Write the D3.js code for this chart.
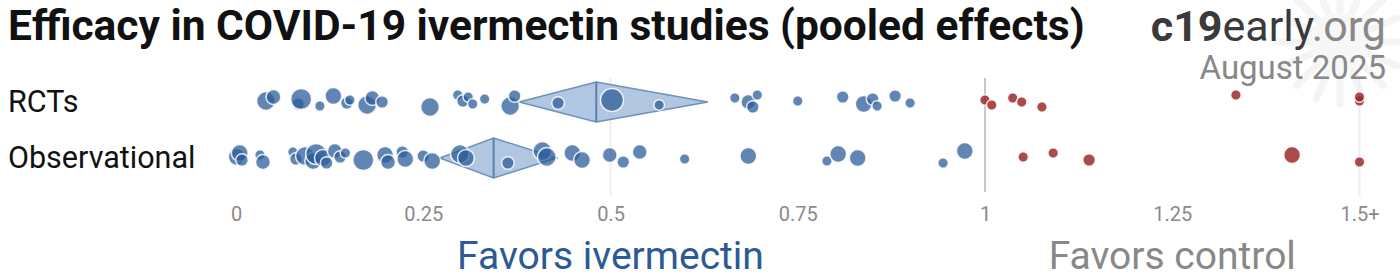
<!DOCTYPE html>
<html><head><meta charset="utf-8">
<script src="https://cdn.jsdelivr.net/npm/d3@7"></script>
<style>body{margin:0;background:#fff}svg{display:block}text{font-family:Roboto,"Noto Sans",sans-serif}</style>
</head><body>
<script>
// ---- data ----
const title = "Efficacy in COVID-19 ivermectin studies (pooled effects)";
const rows = ["RCTs", "Observational"];
const tickValues = [0, 0.25, 0.5, 0.75, 1, 1.25, 1.5];
const tickLabels = ["0", "0.25", "0.5", "0.75", "1", "1.25", "1.5+"];
// relative effect per study (capped at 1.5) and weight
const rctEffects = [0.040,0.050,0.083,0.087,0.112,0.130,0.148,0.152,0.175,0.182,0.195,0.259,0.296,0.303,0.310,0.316,0.332,0.366,0.372,0.430,0.502,0.565,0.666,0.684,0.690,0.696,0.750,0.810,0.838,0.850,0.856,0.880,0.900,1.000,1.009,1.037,1.049,1.076,1.335,1.5,1.5];
const rctWeights = [80,50,36,100,25,64,36,25,80,50,36,80,25,36,25,25,25,80,36,36,120,25,25,50,36,25,25,36,64,36,25,36,25,25,25,25,25,25,25,25,25];
const obsEffects = [0.001,0.005,0.008,0.032,0.036,0.076,0.080,0.092,0.103,0.107,0.116,0.121,0.132,0.139,0.146,0.170,0.199,0.203,0.222,0.226,0.250,0.262,0.299,0.307,0.363,0.409,0.415,0.449,0.462,0.499,0.517,0.539,0.599,0.684,0.789,0.804,0.830,0.944,0.973,1.051,1.091,1.139,1.410,1.5];
const obsWeights = [64,64,36,25,50,25,36,80,64,100,64,36,50,36,25,100,64,50,36,64,36,64,80,64,36,80,80,64,64,50,36,50,25,64,25,64,64,25,64,25,25,36,64,25];
// pooled effects: [lower, estimate, upper]
const pooled = [[0.378, 0.481, 0.630], [0.272, 0.344, 0.428]];
const favorLabels = ["Favors ivermectin", "Favors control"];
const favorAt = [0.5, 1.25];
const brand = ["c19", "early", ".org"];
const dateLabel = "August 2025";

// ---- chart ----
const W = 1400, H = 280;
const svg = d3.select("body").append("svg").attr("width", W).attr("height", H);
const x = d3.scaleLinear().domain([0, 1]).range([236, 985]);
const y = d3.scalePoint().domain(rows).range([101, 157]);
const r = d3.scaleSqrt().domain([0, 120]).range([0, 11.5]);

// faint background decoration (virus logo)
const deco = svg.append("g").attr("transform", "translate(1340,42)").attr("opacity", 0.3);
d3.range(16).forEach(i => {
  const a = i / 16 * Math.PI * 2;
  deco.append("line").attr("x1", 0).attr("y1", 0)
    .attr("x2", Math.cos(a) * 62).attr("y2", Math.sin(a) * 62)
    .attr("stroke", "#dcdcdc").attr("stroke-width", 7).attr("stroke-linecap", "round");
});
deco.append("circle").attr("r", 30).attr("fill", "#e6e6e6");

// reference lines
[[0.5, "#eeeeee", 78, 196], [1, "#c8c8c8", 78, 192], [1.5, "#eeeeee", 78, 196]].forEach(([v, c, y1, y2]) => {
  svg.append("line").attr("x1", x(v)).attr("x2", x(v)).attr("y1", y1).attr("y2", y2)
    .attr("stroke", c).attr("stroke-width", 2);
});

// title
svg.append("text").attr("x", 8).attr("y", 40).attr("font-size", 42.5).attr("font-weight", 700)
  .attr("fill", "#111").text(title);
const bt = svg.append("text").attr("x", 1386).attr("y", 41).attr("text-anchor", "end").attr("font-size", 43);
bt.append("tspan").attr("font-weight", 700).attr("fill", "#3a3a3a").text(brand[0]);
bt.append("tspan").attr("fill", "#3a3a3a").text(brand[1]);
bt.append("tspan").attr("fill", "#888").text(brand[2]);
svg.append("text").attr("x", 1386).attr("y", 79).attr("text-anchor", "end").attr("font-size", 33)
  .attr("fill", "#888").text(dateLabel);

// row labels
svg.selectAll("text.row").data(rows).join("text").attr("class", "row")
  .attr("x", 8).attr("y", d => y(d) + 11).attr("font-size", 30.5).attr("fill", "#111").text(d => d);

// diamonds
const dh = 20;
svg.selectAll("path.diamond").data(pooled).join("path").attr("class", "diamond")
  .attr("d", (d, i) => {
    const cy = y(rows[i]) + 1;
    return `M${x(d[0])},${cy}L${x(d[1])},${cy - dh}L${x(d[2])},${cy}L${x(d[1])},${cy + dh}Z`;
  })
  .attr("fill", "#a3bcdb").attr("fill-opacity", 0.85).attr("stroke", "#6d91bd").attr("stroke-width", 1.5);
svg.selectAll("line.est").data(pooled).join("line").attr("class", "est")
  .attr("x1", d => x(d[1])).attr("x2", d => x(d[1]))
  .attr("y1", (d, i) => y(rows[i]) + 1 - dh).attr("y2", (d, i) => y(rows[i]) + 1 + dh)
  .attr("stroke", "#5a80b0").attr("stroke-width", 2);

// study dots
const jit = [0, -4, 3, -2, 5, -5, 2, -1, 4, -3, 1, 6, -6];
function dots(effects, weights, row) {
  const data = effects.map((e, i) => ({ e, w: weights[i], i }));
  svg.append("g").selectAll("circle").data(data).join("circle")
    .attr("cx", d => x(d.e))
    .attr("cy", d => y(row) + jit[d.i % jit.length])
    .attr("r", d => r(d.w))
    .attr("fill", d => d.e >= 1 ? "#9c2a2a" : "#2b5c9a")
    .attr("fill-opacity", d => d.e >= 1 ? 0.85 : 0.74)
    .attr("stroke", "#fff").attr("stroke-opacity", 0.85).attr("stroke-width", 1.5);
}
dots(rctEffects, rctWeights, rows[0]);
dots(obsEffects, obsWeights, rows[1]);

// axis tick labels
const axis = d3.axisBottom(x).tickValues(tickValues).tickFormat((d, i) => tickLabels[i]).tickSize(0).tickPadding(0);
const ag = svg.append("g").attr("transform", "translate(0,203)").call(axis);
ag.select(".domain").remove();
ag.selectAll("text").attr("font-size", 20).attr("fill", "#8a8a8a").attr("font-family", "Roboto, sans-serif").attr("dy", "0.9em");

// favors labels
svg.selectAll("text.fav").data(favorLabels).join("text").attr("class", "fav")
  .attr("x", (d, i) => x(favorAt[i])).attr("y", 269).attr("text-anchor", "middle")
  .attr("font-size", 39).attr("fill", (d, i) => i === 0 ? "#2b5a94" : "#888").text(d => d);
</script>
</body></html>
